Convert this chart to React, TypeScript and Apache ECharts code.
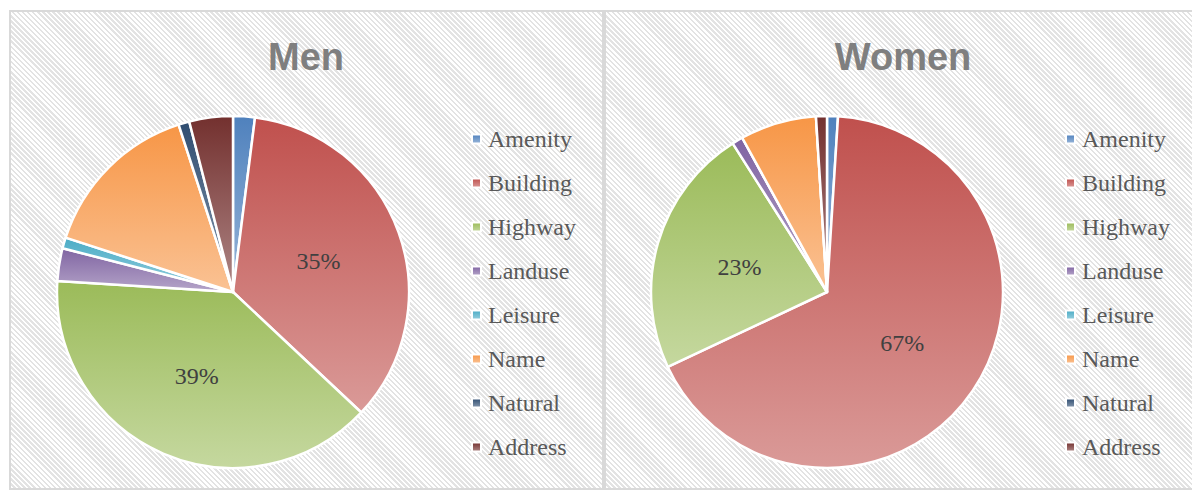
import React, { useEffect, useRef } from "react";
import * as echarts from "echarts";

const categories = ["Amenity", "Building", "Highway", "Landuse", "Leisure", "Name", "Natural", "Address"];
const menValues = [2, 35, 39, 3, 1, 15, 1, 4];
const womenValues = [1, 67, 23, 1, 0, 7, 0, 1];
const baseColors = ["#4F81BD", "#C0504D", "#9BBB59", "#8064A2", "#4BACC6", "#F79646", "#2F4D71", "#73302E"];
const titles = ["Men", "Women"];

const SERIF = "'Liberation Serif', 'DejaVu Serif', serif";

function lighten(hex: string, t: number) {
  const n = parseInt(hex.slice(1), 16);
  const r = (n >> 16) & 255, g = (n >> 8) & 255, b = n & 255;
  const f = (c: number) => Math.round(c + (255 - c) * t);
  return `rgb(${f(r)},${f(g)},${f(b)})`;
}

function grad(hex: string) {
  return {
    type: "linear", x: 0, y: 0, x2: 0, y2: 1,
    colorStops: [
      { offset: 0, color: hex },
      { offset: 1, color: lighten(hex, 0.42) },
    ],
  };
}

function buildData(values: number[]) {
  return categories.map((name, i) => ({
    name,
    value: values[i],
    itemStyle: { color: grad(baseColors[i]) },
    label: { show: values[i] >= 20 },
  }));
}

const hatch = "repeating-linear-gradient(45deg, #ffffff 0px, #ffffff 1.8px, #e3e3e3 1.8px, #e3e3e3 3.6px)";

export default function App() {
  const ref = useRef<HTMLDivElement>(null);
  useEffect(() => {
    if (!ref.current) return;
    const chart = echarts.init(ref.current, undefined, { renderer: "svg" });
    const pieCommon = {
      type: "pie",
      radius: 176,
      startAngle: 90,
      clockwise: true,
      avoidLabelOverlap: false,
      itemStyle: { borderColor: "#ffffff", borderWidth: 2.5 },
      label: {
        position: "inner",
        color: "#404040",
        fontFamily: SERIF,
        fontSize: 24,
        formatter: (p: any) => Math.round(p.percent) + "%",
      },
      labelLine: { show: false },
      emphasis: { disabled: true },
    };
    const legendCommon = {
      orient: "vertical",
      top: 127,
      padding: 0,
      itemWidth: 9,
      itemHeight: 9,
      itemGap: 20,
      icon: "rect",
      selectedMode: false,
      textStyle: {
        color: "#595959",
        fontFamily: SERIF,
        fontSize: 24,
        lineHeight: 24,
        padding: [0, 0, 0, 2],
      },
      data: categories,
    };
    chart.setOption({
      animation: false,
      legend: [
        { ...legendCommon, left: 471 },
        { ...legendCommon, left: 1065 },
      ],
      graphic: [
        {
          type: "text", x: 306, y: 57,
          style: { text: titles[0], textAlign: "center", textVerticalAlign: "middle", fill: "#7f7f7f", font: "bold 38px 'Liberation Sans'" },
        },
        {
          type: "text", x: 903, y: 57,
          style: { text: titles[1], textAlign: "center", textVerticalAlign: "middle", fill: "#7f7f7f", font: "bold 38px 'Liberation Sans'" },
        },
      ],
      series: [
        { ...pieCommon, name: titles[0], center: [233, 292], data: buildData(menValues) },
        { ...pieCommon, name: titles[1], center: [827, 292], data: buildData(womenValues) },
      ],
    });
    return () => chart.dispose();
  }, []);

  return (
    <div style={{ position: "fixed", left: 0, top: 0, width: 1192, height: 492, background: "#fff", overflow: "hidden" }}>
      <div style={{ position: "absolute", left: 9, top: 10, width: 595, height: 480, boxSizing: "border-box", border: "2px solid #d9d9d9", backgroundImage: hatch }} />
      <div style={{ position: "absolute", left: 604, top: 10, width: 600, height: 480, boxSizing: "border-box", border: "2px solid #d9d9d9", backgroundImage: hatch }} />
      <div ref={ref} style={{ position: "absolute", left: 0, top: 0, width: 1192, height: 492 }} />
    </div>
  );
}
